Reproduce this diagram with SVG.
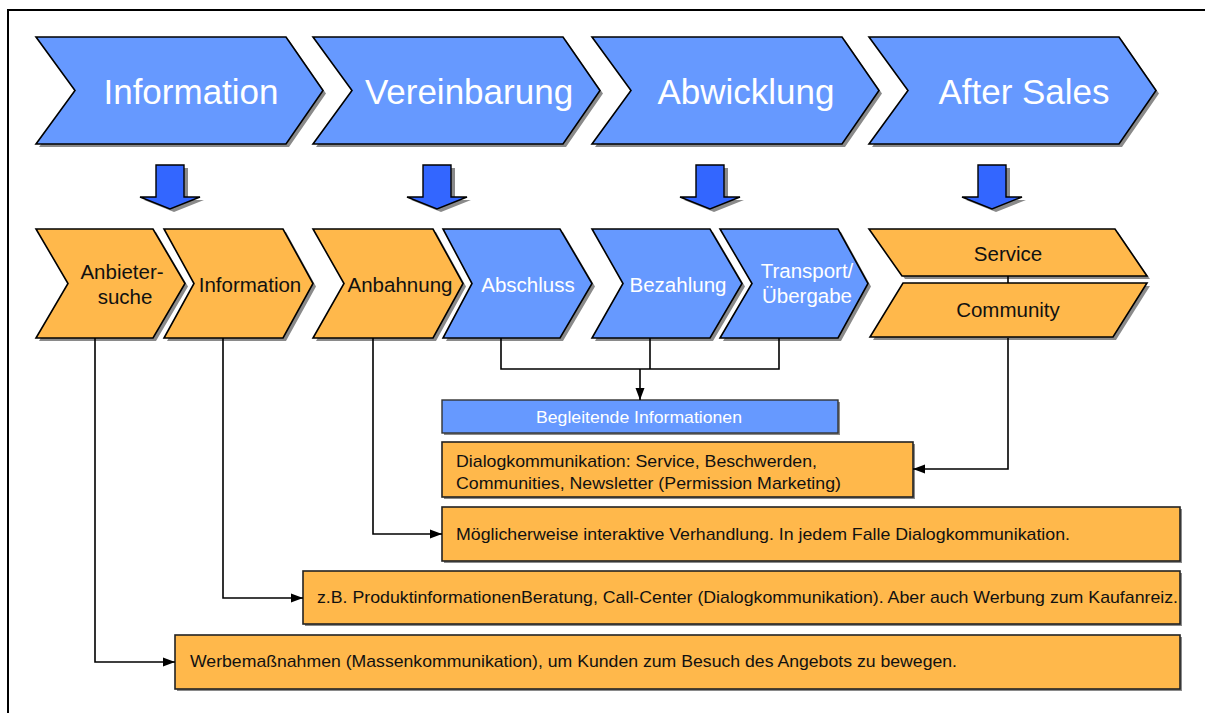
<svg xmlns="http://www.w3.org/2000/svg" xmlns:xlink="http://www.w3.org/1999/xlink" width="1205" height="713" viewBox="0 0 1205 713">
<style>
text{font-family:"Liberation Sans",Arial,sans-serif}
.blue{fill:#6699FF;stroke:#000;stroke-width:1.6;stroke-linejoin:miter}
.org{fill:#FFB84B;stroke:#000;stroke-width:1.6}
.arr{fill:#3366FF;stroke:#000;stroke-width:1.4}
.sh{fill:#8a8a8a;stroke:none}
.box{fill:#FFB84B;stroke:#222;stroke-width:1.6}
.bbox{fill:#6699FF;stroke:#333;stroke-width:1.4}
.t1{font-size:35px;fill:#fff;text-anchor:middle}
.t2{font-size:20.5px;fill:#111;text-anchor:middle}
.t2w{font-size:20.5px;fill:#fff;text-anchor:middle}
.t3{font-size:17px;fill:#111}
.con{fill:none;stroke:#000;stroke-width:1.6}
</style>
<defs>
<path id="chev" d="M0,37 L250,37 L287,90.5 L250,144 L0,144 L39,90.5 Z"/>
<path id="darr" d="M-14,165 L14,165 L14,197 L30,197 L0,209 L-30,197 L-14,197 Z"/>
<marker id="ah" viewBox="0 0 12 10" refX="12" refY="5" markerWidth="12" markerHeight="10" markerUnits="userSpaceOnUse" orient="auto">
<path d="M0,0.5 L12,5 L0,9.5 Z" fill="#000"/>
</marker>
</defs>
<rect width="1205" height="713" fill="#fff"/>
<rect x="8" y="10" width="1300" height="800" fill="none" stroke="#000" stroke-width="2"/>

<g id="phase-information">
<use xlink:href="#chev" class="sh" transform="translate(39,3)"/>
<use xlink:href="#chev" class="blue" transform="translate(36,0)"/>
<text class="t1" x="191" y="104">Information</text>
</g>
<g id="phase-vereinbarung">
<use xlink:href="#chev" class="sh" transform="translate(316,3)"/>
<use xlink:href="#chev" class="blue" transform="translate(313,0)"/>
<text class="t1" x="469" y="104">Vereinbarung</text>
</g>
<g id="phase-abwicklung">
<use xlink:href="#chev" class="sh" transform="translate(595,3)"/>
<use xlink:href="#chev" class="blue" transform="translate(592,0)"/>
<text class="t1" x="746" y="104">Abwicklung</text>
</g>
<g id="phase-aftersales">
<use xlink:href="#chev" class="sh" transform="translate(872,3)"/>
<use xlink:href="#chev" class="blue" transform="translate(869,0)"/>
<text class="t1" x="1024" y="104">After Sales</text>
</g>

<g id="down-arrows">
<use xlink:href="#darr" class="sh" transform="translate(174,3)"/>
<use xlink:href="#darr" class="arr" transform="translate(170,0)"/>
<use xlink:href="#darr" class="sh" transform="translate(441,3)"/>
<use xlink:href="#darr" class="arr" transform="translate(437,0)"/>
<use xlink:href="#darr" class="sh" transform="translate(714,3)"/>
<use xlink:href="#darr" class="arr" transform="translate(710,0)"/>
<use xlink:href="#darr" class="sh" transform="translate(996,3)"/>
<use xlink:href="#darr" class="arr" transform="translate(992,0)"/>
</g>

<g id="step-anbietersuche">
<path class="sh" d="M39,232 L156,232 L188,286.5 L156,341 L39,341 L71,286.5 Z"/>
<path class="org" d="M36,229 L153,229 L185,283.5 L153,338 L36,338 L68,283.5 Z"/>
<text class="t2" x="122" y="279">Anbieter-</text>
<text class="t2" x="125" y="304">suche</text>
</g>
<g id="step-information">
<path class="sh" d="M167,232 L286,232 L316,286.5 L286,341 L167,341 L197,286.5 Z"/>
<path class="org" d="M164,229 L283,229 L313,283.5 L283,338 L164,338 L194,283.5 Z"/>
<text class="t2" x="250" y="292">Information</text>
</g>
<g id="step-anbahnung">
<path class="sh" d="M316,232 L436,232 L466,286.5 L436,341 L316,341 L347,286.5 Z"/>
<path class="org" d="M313,229 L433,229 L463,283.5 L433,338 L313,338 L344,283.5 Z"/>
<text class="t2" x="400" y="292">Anbahnung</text>
</g>
<g id="step-abschluss">
<path class="sh" d="M446,232 L563,232 L595,286.5 L563,341 L446,341 L475,286.5 Z"/>
<path class="blue" d="M443,229 L560,229 L592,283.5 L560,338 L443,338 L472,283.5 Z"/>
<text class="t2w" x="528" y="292">Abschluss</text>
</g>
<g id="step-bezahlung">
<path class="sh" d="M595,232 L713,232 L745,286.5 L713,341 L595,341 L626,286.5 Z"/>
<path class="blue" d="M592,229 L710,229 L742,283.5 L710,338 L592,338 L623,283.5 Z"/>
<text class="t2w" x="678" y="292">Bezahlung</text>
</g>
<g id="step-transport">
<path class="sh" d="M723,232 L841,232 L871,286.5 L841,341 L723,341 L755,286.5 Z"/>
<path class="blue" d="M720,229 L838,229 L868,283.5 L838,338 L720,338 L752,283.5 Z"/>
<text class="t2w" x="807" y="278">Transport/</text>
<text class="t2w" x="807" y="303">Übergabe</text>
</g>
<g id="step-service">
<path class="sh" d="M872,232 L1118,232 L1150,279 L905,279 Z"/>
<path class="org" d="M869,229 L1115,229 L1147,276 L902,276 Z"/>
<text class="t2" x="1008" y="261">Service</text>
</g>
<g id="step-community">
<path class="sh" d="M906,286 L1150,286 L1116,340 L873,340 Z"/>
<path class="org" d="M903,283 L1147,283 L1113,337 L870,337 Z"/>
<text class="t2" x="1008" y="317">Community</text>
</g>

<g id="box-begleitend">
<rect class="sh" x="444" y="402" width="396" height="33"/>
<rect class="bbox" x="442" y="400" width="396" height="33"/>
<text class="t3" x="639" y="423" style="fill:#fff" text-anchor="middle" textLength="206" lengthAdjust="spacingAndGlyphs">Begleitende Informationen</text>
</g>
<g id="box-dialog">
<rect class="sh" x="444" y="444" width="471" height="55"/>
<rect class="box" x="442" y="442" width="471" height="55"/>
<text class="t3" x="456" y="467" textLength="361" lengthAdjust="spacingAndGlyphs">Dialogkommunikation: Service, Beschwerden,</text>
<text class="t3" x="456" y="489" textLength="385" lengthAdjust="spacingAndGlyphs">Communities, Newsletter (Permission Marketing)</text>
</g>
<g id="box-verhandlung">
<rect class="sh" x="444" y="509" width="738" height="54"/>
<rect class="box" x="442" y="507" width="738" height="54"/>
<text class="t3" x="456" y="540" textLength="614" lengthAdjust="spacingAndGlyphs">Möglicherweise interaktive Verhandlung. In jedem Falle Dialogkommunikation.</text>
</g>
<g id="box-produktinfo">
<rect class="sh" x="305" y="573" width="877" height="53"/>
<rect class="box" x="303" y="571" width="877" height="53"/>
<text class="t3" x="317" y="603" textLength="861" lengthAdjust="spacingAndGlyphs">z.B. ProduktinformationenBeratung, Call-Center (Dialogkommunikation). Aber auch Werbung zum Kaufanreiz.</text>
</g>
<g id="box-werbung">
<rect class="sh" x="177" y="637" width="1005" height="54"/>
<rect class="box" x="175" y="635" width="1005" height="54"/>
<text class="t3" x="190" y="667" textLength="767" lengthAdjust="spacingAndGlyphs">Werbemaßnahmen (Massenkommunikation), um Kunden zum Besuch des Angebots zu bewegen.</text>
</g>

<g id="connectors">
<path class="con" d="M95,338 L95,662 L175,662" marker-end="url(#ah)"/>
<path class="con" d="M223,338 L223,598 L303,598" marker-end="url(#ah)"/>
<path class="con" d="M373,338 L373,534 L442,534" marker-end="url(#ah)"/>
<path class="con" d="M501,338 L501,369 L779,369 L779,338"/>
<path class="con" d="M650,338 L650,369"/>
<path class="con" d="M640,369 L640,400" marker-end="url(#ah)"/>
<path class="con" d="M1008,276 L1008,283"/>
<path class="con" d="M1008,338 L1008,469 L913,469" marker-end="url(#ah)"/>
</g>
</svg>
